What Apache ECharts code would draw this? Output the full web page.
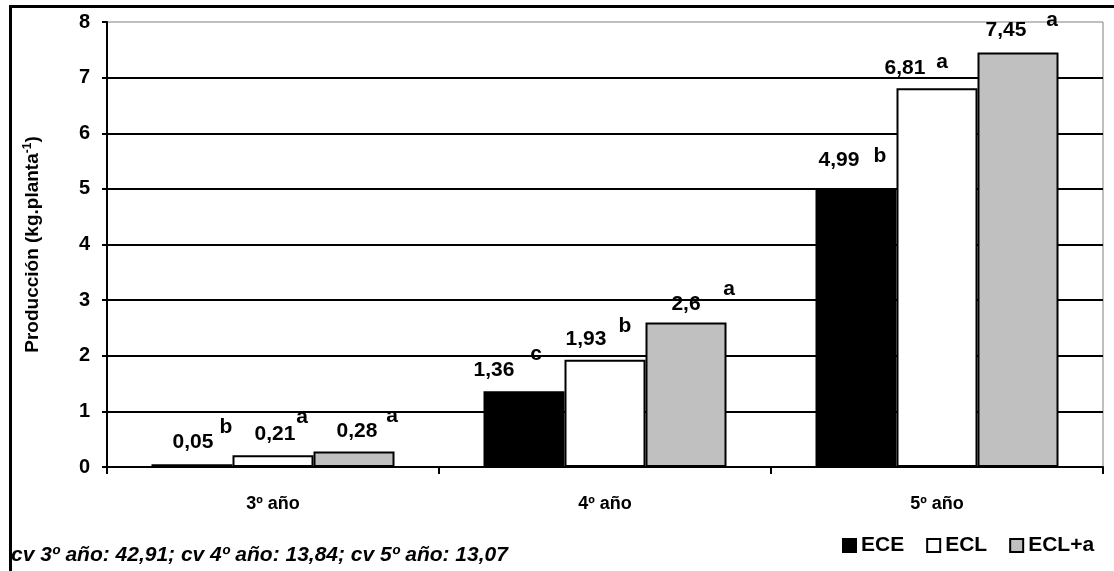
<!DOCTYPE html>
<html>
<head>
<meta charset="utf-8">
<script src="https://cdn.jsdelivr.net/npm/echarts@6/dist/echarts.min.js"></script>
<style>
  html, body { margin: 0; padding: 0; background: #fff; }
  #chart { width: 1114px; height: 571px; }
</style>
</head>
<body>
<div id="chart"></div>
<script>
const categories = ['3º año', '4º año', '5º año'];
const seriesNames = ['ECE', 'ECL', 'ECL+a'];
const eceValues = [0.05, 1.36, 4.99];
const eclValues = [0.21, 1.93, 6.81];
const eclaValues = [0.28, 2.6, 7.45];
const eceLetters = ['b', 'c', 'b'];
const eclLetters = ['a', 'b', 'a'];
const eclaLetters = ['a', 'a', 'a'];
const footNote = 'cv 3º año: 42,91; cv 4º año: 13,84; cv 5º año: 13,07';

// label placement (px from the top centre of each bar)
const valueOffsets = [
  [[1, -22], [-30, -21], [-17, -29]],
  [[2, -21], [-19, -20], [-32, -20]],
  [[3, -20], [0, -18], [-12, -22]]
];
const letterOffsets = [
  [[34, -37], [12, -37], [24, -33]],
  [[29, -38], [20, -33], [5, -26]],
  [[38, -35], [43, -33], [34, -32]]
];

const font = '"Liberation Sans", Arial, sans-serif';

function makeSeries(idx, values, letters, color) {
  return {
    name: seriesNames[idx],
    type: 'bar',
    barWidth: 81,
    barGap: '0%',
    itemStyle: { color: color, borderColor: '#000', borderWidth: 2 },
    label: {
      show: true,
      position: 'top',
      distance: 0,
      verticalAlign: 'middle',
      color: '#000',
      fontFamily: font,
      fontWeight: 'bold',
      fontSize: 21,
      formatter: p => String(p.value).replace('.', ',')
    },
    data: values.map((v, i) => ({ value: v, label: { offset: valueOffsets[idx][i] } })),
    markPoint: {
      symbol: 'circle',
      symbolSize: 1,
      silent: true,
      itemStyle: { color: 'rgba(0,0,0,0)' },
      label: {
        show: true,
        position: 'inside',
        color: '#000',
        fontFamily: font,
        fontWeight: 'bold',
        fontSize: 21,
        formatter: '{b}'
      },
      data: letters.map((l, i) => ({
        name: l,
        coord: [categories[i], values[i]],
        label: { offset: letterOffsets[idx][i] }
      }))
    }
  };
}

const chart = echarts.init(document.getElementById('chart'));
chart.setOption({
  backgroundColor: '#fff',
  animation: false,
  grid: {
    left: 107, right: 11, top: 22, bottom: 104,
    show: true, borderColor: '#808080', borderWidth: 1
  },
  graphic: [{
    type: 'rect',
    shape: { x: 10.5, y: 6.5, width: 1200, height: 700 },
    style: { fill: 'none', stroke: '#000', lineWidth: 3 },
    silent: true
  }],
  title: {
    text: footNote,
    left: 11, top: 545, padding: 0,
    textStyle: { fontFamily: font, fontWeight: 'bold', fontStyle: 'italic', fontSize: 21, color: '#000' }
  },
  legend: {
    left: 842, top: 535, padding: 0,
    icon: 'rect', itemWidth: 13, itemHeight: 13, itemGap: 22,
    textStyle: { fontFamily: font, fontWeight: 'bold', fontSize: 21, color: '#000' },
    data: seriesNames
  },
  xAxis: {
    type: 'category',
    data: categories,
    axisLine: { lineStyle: { color: '#000', width: 2 } },
    axisTick: { show: true, length: 7, lineStyle: { color: '#000', width: 2 } },
    axisLabel: { margin: 28, color: '#000', fontFamily: font, fontWeight: 'bold', fontSize: 18 }
  },
  yAxis: {
    type: 'value',
    min: 0, max: 8, interval: 1,
    name: 'Producción (kg.planta{sup|-1})',
    nameLocation: 'middle',
    nameGap: 64,
    nameTextStyle: {
      fontFamily: font, fontWeight: 'bold', fontSize: 19, color: '#000',
      rich: { sup: { fontFamily: font, fontWeight: 'bold', fontSize: 12, verticalAlign: 'top', padding: [0, 0, 9, 0] } }
    },
    axisLine: { show: true, lineStyle: { color: '#000', width: 2 } },
    axisTick: { show: true, length: 5, lineStyle: { color: '#000', width: 2 } },
    axisLabel: { margin: 17, color: '#000', fontFamily: font, fontWeight: 'bold', fontSize: 20 },
    splitLine: { show: true, showMaxLine: false, lineStyle: { color: '#000', width: 2 } }
  },
  series: [
    makeSeries(0, eceValues, eceLetters, '#000000'),
    makeSeries(1, eclValues, eclLetters, '#ffffff'),
    makeSeries(2, eclaValues, eclaLetters, '#c0c0c0')
  ]
});
</script>
</body>
</html>
